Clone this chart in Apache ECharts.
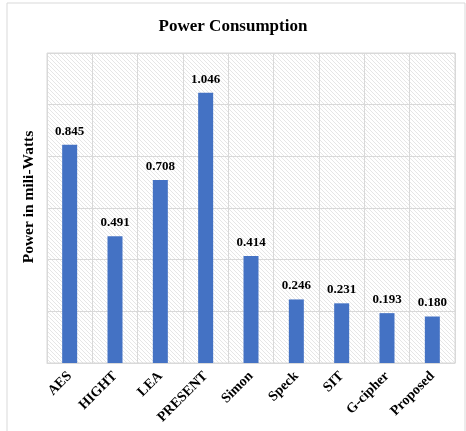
<!DOCTYPE html>
<html>
<head>
<meta charset="utf-8">
<script src="https://cdn.jsdelivr.net/npm/echarts@6/dist/echarts.min.js"></script>
<style>
  html, body { margin: 0; padding: 0; background: #fff; }
  #chart { width: 466px; height: 431px; }
</style>
</head>
<body>
<div id="chart"></div>
<script>
// data
var categories = ['AES', 'HIGHT', 'LEA', 'PRESENT', 'Simon', 'Speck', 'SIT', 'G-cipher', 'Proposed'];
var powerValues = [0.845, 0.491, 0.708, 1.046, 0.414, 0.246, 0.231, 0.193, 0.180];

// diagonal hatch for the plot area
function makeHatch() {
    var s = 4;
    var c = document.createElement('canvas');
    c.width = s; c.height = s;
    var ctx = c.getContext('2d');
    ctx.fillStyle = '#ffffff';
    ctx.fillRect(0, 0, s, s);
    ctx.strokeStyle = '#e6e6e6';
    ctx.lineWidth = 1;
    for (var k = -1; k <= 1; k++) {
        ctx.beginPath();
        ctx.moveTo(k * s, 0);
        ctx.lineTo(k * s + s, s);
        ctx.stroke();
    }
    return c;
}

var font = '"Liberation Serif", "Times New Roman", serif';
var myChart = echarts.init(document.getElementById('chart'));
var option = {
    backgroundColor: '#fff',
    animation: false,
    title: {
        text: 'Power Consumption',
        left: 'center',
        top: 13,
        textStyle: { fontFamily: font, fontSize: 17, fontWeight: 'bold', color: '#000' }
    },
    graphic: [{
        type: 'rect',
        shape: { x: 7, y: 3, width: 458, height: 460 },
        style: { fill: 'none', stroke: '#d9d9d9', lineWidth: 1 },
        silent: true
    }],
    grid: {
        left: 47,
        right: 11,
        top: 53,
        bottom: 68,
        show: true,
        borderWidth: 1,
        borderColor: '#d9d9d9',
        backgroundColor: { image: makeHatch(), repeat: 'repeat' }
    },
    xAxis: {
        type: 'category',
        data: categories,
        axisLine: { show: true, lineStyle: { color: '#d9d9d9' } },
        axisTick: { show: false },
        splitLine: { show: true, lineStyle: { color: '#d9d9d9' } },
        axisLabel: {
            interval: 0,
            rotate: 45,
            margin: 11,
            fontFamily: font,
            fontSize: 14,
            fontWeight: 'bold',
            color: '#000'
        }
    },
    yAxis: {
        type: 'value',
        min: 0,
        max: 1.2,
        interval: 0.2,
        name: 'Power in mili-Watts',
        nameLocation: 'middle',
        nameGap: 10,
        nameTextStyle: {
            fontFamily: font, fontSize: 15.5, fontWeight: 'bold', color: '#000',
            padding: [0, 0, 0, 22]
        },
        axisLine: { show: false },
        axisTick: { show: false },
        axisLabel: { show: false },
        splitLine: { show: true, lineStyle: { color: '#d9d9d9' } }
    },
    series: [{
        type: 'bar',
        data: powerValues,
        barWidth: 15,
        itemStyle: { color: '#4472C4' },
        label: {
            show: true,
            position: 'top',
            distance: 7,
            formatter: function (p) { return p.value.toFixed(3); },
            fontFamily: font,
            fontSize: 13,
            fontWeight: 'bold',
            color: '#000'
        }
    }]
};
myChart.setOption(option);
window.addEventListener('resize', function () {
    myChart.resize();
});
</script>
</body>
</html>
